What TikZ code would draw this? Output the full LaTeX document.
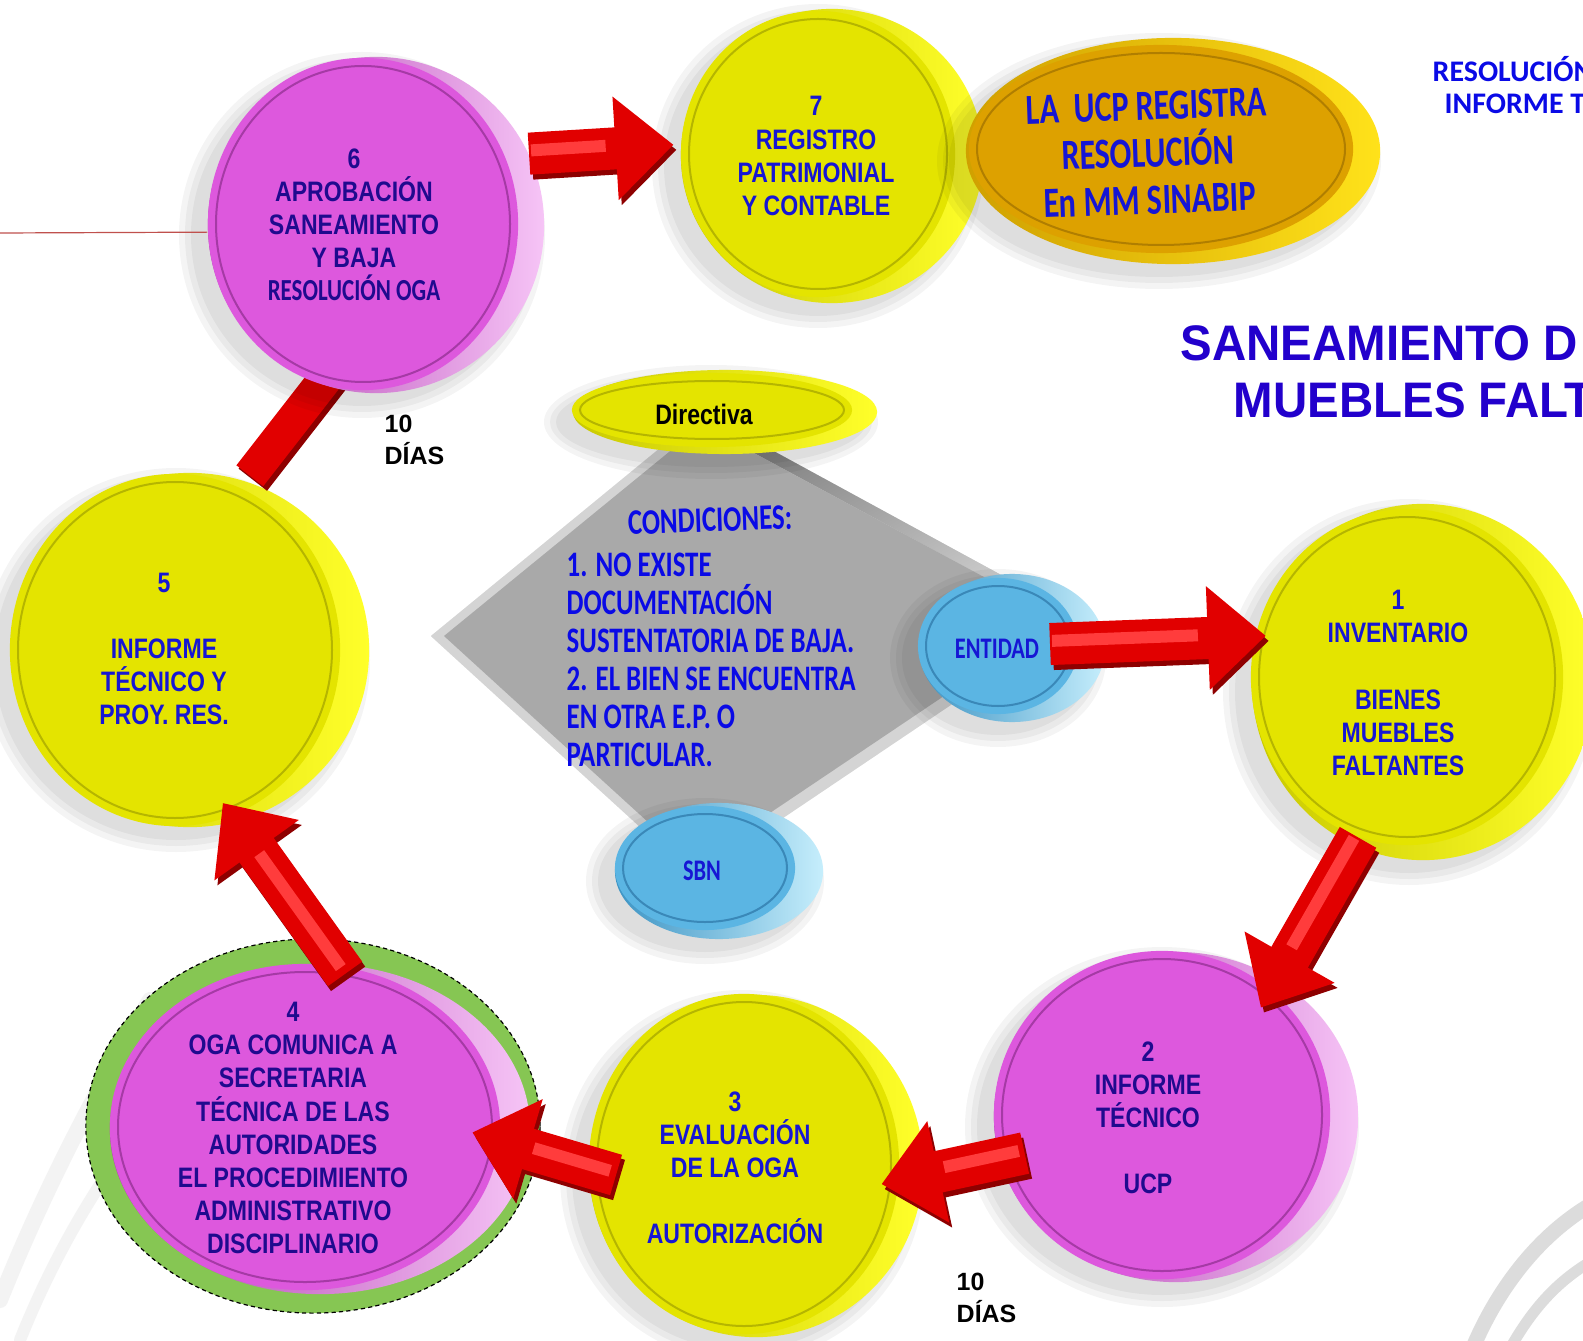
\documentclass[tikz,border=0pt]{standalone}
\usepackage{fontspec}
\setmainfont{Liberation Sans}
\newfontfamily\narr{Liberation Sans}[FakeStretch=0.82]
\newfontfamily\calnarr{Carlito}[FakeStretch=0.75]
\newfontfamily\calfont{Carlito}
\newfontfamily\ttlfont{Liberation Sans}[FakeStretch=0.95]
\usetikzlibrary{arrows.meta,shapes.geometric}

\definecolor{yface}{HTML}{E4E400}
\definecolor{yrimL}{HTML}{C9C900}
\definecolor{yrimR}{HTML}{FFFF2A}
\definecolor{yring}{HTML}{B5B500}
\definecolor{mface}{HTML}{DD58DD}
\definecolor{mrimL}{HTML}{B03CB0}
\definecolor{mrimR}{HTML}{F6C4F6}
\definecolor{mring}{HTML}{A53AA5}
\definecolor{oface}{HTML}{DDA100}
\definecolor{orimL}{HTML}{D0A000}
\definecolor{orimR}{HTML}{FFE21A}
\definecolor{oring}{HTML}{B07E00}
\definecolor{bface}{HTML}{5BB5E3}
\definecolor{brimL}{HTML}{3D94C4}
\definecolor{brimR}{HTML}{C6EEFC}
\definecolor{bring}{HTML}{3A88B8}
\definecolor{txtblue}{HTML}{1616D4}
\definecolor{txtnavy}{HTML}{1F0A8E}
\definecolor{ttlblue}{HTML}{2200CC}
\definecolor{resblue}{HTML}{0A0AE6}
\definecolor{arrred}{HTML}{E10000}
\definecolor{arrdark}{HTML}{8E0000}
\definecolor{arrlight}{HTML}{FF3C3C}
\definecolor{ringgreen}{HTML}{86C653}
\definecolor{dface}{HTML}{A9A9A9}
\definecolor{dedge}{HTML}{D4D4D4}
\definecolor{ddark}{HTML}{7C7C7C}
\definecolor{thinred}{HTML}{C0504D}
\definecolor{wmark}{HTML}{DCDCDC}
\definecolor{wmarkl}{HTML}{F3F3F3}

\tikzset{
  rimY/.style={ellipse, inner sep=0, draw=none, left color=yrimL, right color=yrimR},
  faceY/.style={ellipse, inner sep=0, draw=none, fill=yface},
  ringY/.style={draw=yring, line width=0.02cm},
  rimM/.style={ellipse, inner sep=0, draw=none, left color=mrimL, right color=mrimR},
  faceM/.style={ellipse, inner sep=0, draw=none, fill=mface},
  ringM/.style={draw=mring, line width=0.02cm},
  rimO/.style={ellipse, inner sep=0, draw=none, left color=orimL, right color=orimR},
  faceO/.style={ellipse, inner sep=0, draw=none, fill=oface},
  ringO/.style={draw=oring, line width=0.02cm},
  rimB/.style={ellipse, inner sep=0, draw=none, left color=brimL, right color=brimR},
  faceB/.style={ellipse, inner sep=0, draw=none, fill=bface},
  ringB/.style={draw=bring, line width=0.02cm},
  cshadow/.style={fill=black, opacity=0.045},
  greenring/.style={ellipse, inner sep=0, fill=ringgreen, draw=black, line width=0.012cm,
    dash pattern=on 1.2pt off 0.9pt},
  ytext/.style={font=\narr\bfseries\fontsize{8}{9.4}\selectfont, text=txtblue, align=center, inner sep=0},
  mtext/.style={font=\narr\bfseries\fontsize{8}{9.4}\selectfont, text=txtnavy, align=center, inner sep=0},
  otext/.style={font=\calnarr\bfseries\fontsize{12.2}{13.4}\selectfont, text=txtblue, align=center, inner sep=0},
  condtext/.style={font=\calnarr\bfseries\fontsize{10.2}{10.8}\selectfont, text=resblue, inner sep=0},
  smalltext/.style={font=\calnarr\bfseries\fontsize{8.5}{9.4}\selectfont, text=txtblue, inner sep=0},
  dirtext/.style={font=\narr\bfseries\fontsize{8}{9.4}\selectfont, text=black, inner sep=0},
  diastext/.style={font=\bfseries\fontsize{7.1}{9.1}\selectfont, text=black, align=left, inner sep=0, anchor=west},
  restext/.style={font=\calfont\bfseries\fontsize{8.5}{10}\selectfont, text=resblue, inner sep=0, anchor=west},
  ttltext/.style={font=\ttlfont\bfseries\fontsize{14.2}{16}\selectfont, text=ttlblue, inner sep=0, anchor=west},
  arrtip/.style={-{Triangle[width=1.0cm,length=0.58cm]}},
  arrshade/.style={draw=arrdark, line width=0.42cm, arrtip, transform canvas={shift={(0.03cm,-0.05cm)}}},
  arrbody/.style={draw=arrred, line width=0.42cm, arrtip},
  arrhl/.style={draw=arrlight, line width=0.12cm},
  stickshade/.style={draw=arrdark, line width=0.36cm, transform canvas={shift={(0.03cm,-0.04cm)}}},
  stickbody/.style={draw=arrred, line width=0.34cm},
  wm/.style={draw=wmark, line cap=round},
  wml/.style={draw=wmarkl, line cap=round},
}

\newcommand\coinshadow[3]{%
  \foreach \s in {3,9,15}{\fill[cshadow, shift={(-14,10)}] (#1) ellipse [x radius=#2+\s, y radius=#3+\s];}%
}
% #1 name, #2 face centre, #3 face rx, #4 face ry, #5 rim centre, #6 rim rx, #7 rim ry, #8 kind
\newcommand\drawcoin[8]{%
  \node[rim#8, minimum width=#6*0.02cm, minimum height=#7*0.02cm] (#1r) at (#5) {};
  \node[face#8, minimum width=#3*0.02cm, minimum height=#4*0.02cm] (#1) at (#2) {};
  \draw[ring#8] (#2) ellipse [x radius=#3-8, y radius=#4-8];
}
% #1 start, #2 end, #3 shorten start, #4 shorten end
\newcommand\redarrow[4]{%
  \draw[arrshade, shorten <=#3, shorten >=#4] #1 -- #2;
  \draw[arrbody, shorten <=#3, shorten >=#4] #1 -- #2;
  \draw[arrhl, shorten <=#3+0.04cm, shorten >=#4+0.66cm, transform canvas={shift={(-0.02cm,0.03cm)}}] #1 -- #2;
}

\begin{document}
\begin{tikzpicture}[x=0.01cm,y=-0.01cm]
\useasboundingbox (0,0) rectangle (1583,1340);
\clip (0,0) rectangle (1583,1340);
\fill[white] (0,0) rectangle (1583,1340);

% faint watermarks
\draw[wm, line width=0.15cm] (1474,1345) .. controls (1500,1285) and (1540,1235) .. (1590,1205);
\draw[wm, line width=0.11cm] (1512,1345) .. controls (1535,1305) and (1560,1280) .. (1590,1262);
\draw[wml, line width=0.16cm] (0,1300) .. controls (40,1200) and (90,1100) .. (150,1000);
\draw[wml, line width=0.12cm] (20,1340) .. controls (60,1240) and (120,1140) .. (200,1060);

% diamond
\coordinate (dL) at (429,636);
\coordinate (dT) at (702,412);
\coordinate (dR) at (1080,618);
\coordinate (dB) at (694,878);
\coordinate (iL) at (444,636);
\coordinate (iT) at (702,425);
\coordinate (iR) at (1060,618);
\coordinate (iB) at (694,864);
\fill[black, opacity=0.06, shift={(-8,10)}] (dL) -- (dT) -- (dR) -- (dB) -- cycle;
\fill[dedge] (dL) -- (dT) -- (dR) -- (dB) -- cycle;
\shade[left color=ddark, right color=dedge, shading angle=30] (dT) -- (dR) -- (iR) -- (iT) -- cycle;
\fill[dface] (iL) -- (iT) -- (iR) -- (iB) -- cycle;
\draw[white, line width=0.02cm] (dL) -- (dT);
\draw[white, line width=0.02cm] (dL) -- (dB);

% circle 5
\coinshadow{190,650}{179}{177}
\drawcoin{c5}{175,650}{165}{176}{190,650}{179}{177}{Y}

% stick 5 -> 6 (its head lies under circle 6)
\coordinate (s56) at (350,347);
\draw[stickshade, shorten <=0.15cm] (c5.68) -- (s56);
\draw[stickbody, shorten <=0.15cm] (c5.68) -- (s56);

% circle 6
\coinshadow{376,225}{168}{168}
\drawcoin{c6}{363,224}{155}{166}{376,225}{168}{168}{M}
\coordinate (redl) at (0,233);
\draw[thinred, line width=0.012cm] (redl) -- (c6.183);

% circle 7 and orange ellipse
\coinshadow{832,156}{151}{147}
\drawcoin{c7}{818,154}{137}{143}{832,156}{151}{147}{Y}
\redarrow{(c6r.25)}{(c7.176)}{0cm}{0.07cm}
\coinshadow{1173,151}{207}{113}
\drawcoin{org}{1161,149}{192}{104}{1173,151}{207}{113}{O}

% directiva, entidad, sbn
\coinshadow{725,412}{152}{42}
\drawcoin{dir}{712,410}{140}{37}{725,412}{152}{42}{Y}
\coinshadow{1012,648}{93}{74}
\drawcoin{ent}{998,646}{80}{68}{1012,648}{93}{74}{B}
\coinshadow{719,871}{104}{68}
\drawcoin{sbn}{705,868}{90}{62}{719,871}{104}{68}{B}

% circles 1, 2, 3
\coinshadow{1423,682}{171}{178}
\drawcoin{c1}{1407,677}{156}{168}{1423,682}{171}{178}{Y}
\coinshadow{1176,1117}{182}{165}
\drawcoin{c2}{1162,1115}{168}{164}{1176,1117}{182}{165}{M}
\coinshadow{756,1166}{167}{171}
\drawcoin{c3}{744,1164}{155}{170}{756,1166}{167}{171}{Y}

% circle 4 with dashed green ring
\node[greenring, minimum width=4.54cm, minimum height=3.74cm] (c4g) at (313,1126) {};
\drawcoin{c4}{305,1127}{195}{163}{320,1129}{210}{165}{M}

% arrows
\redarrow{(ent.center)}{(c1.165)}{0.52cm}{-0.11cm}
\redarrow{(c1.253)}{(c2.49)}{0cm}{-0.21cm}
\redarrow{(c2.195)}{(c3.354)}{-0.26cm}{-0.18cm}
\redarrow{(c3.181)}{(c4.356)}{-0.29cm}{-0.29cm}
\redarrow{(c4.78)}{(c5.289)}{-0.1cm}{-0.16cm}

% texts
\node[mtext] (t6) at (354,225) {6\\APROBACIÓN\\SANEAMIENTO\\Y BAJA\\{\calnarr\fontsize{8.7}{9.4}\selectfont RESOLUCIÓN OGA}};
\node[ytext] (t7) at (816,156) {7\\REGISTRO\\PATRIMONIAL\\Y CONTABLE};
\node[otext, rotate=2] (torg) at (1148,153) {LA\ \ UCP REGISTRA\\RESOLUCIÓN\\En MM SINABIP};
\node[ytext] (t1) at (1398,683) {1\\INVENTARIO\\[9.4pt]BIENES\\MUEBLES\\FALTANTES};
\node[mtext] (t2) at (1148,1118) {2\\INFORME\\TÉCNICO\\[9.4pt]UCP};
\node[ytext] (t3) at (735,1168) {3\\EVALUACIÓN\\DE LA OGA\\[9.4pt]AUTORIZACIÓN};
\node[mtext] (t4) at (293,1128) {4\\OGA COMUNICA A\\SECRETARIA\\TÉCNICA DE LAS\\AUTORIDADES\\EL PROCEDIMIENTO\\ADMINISTRATIVO\\DISCIPLINARIO};
\node[ytext] (t5) at (164,649) {5\\[9.4pt]INFORME\\TÉCNICO Y\\PROY. RES.};
\node[dirtext] (tdir) at (704,414) {Directiva};
\node[smalltext] (tent) at (997,649) {ENTIDAD};
\node[smalltext] (tsbn) at (702,871) {SBN};
\node[condtext, rotate=2] (tcond) at (710,520) {CONDICIONES:};
\node[condtext, align=left, anchor=west] (tcondb) at (566,660) {1. NO EXISTE\\DOCUMENTACIÓN\\SUSTENTATORIA DE BAJA.\\2. EL BIEN SE ENCUENTRA\\EN OTRA E.P. O\\PARTICULAR.};
\node[diastext] (td1) at (384,440) {10\\DÍAS};
\node[diastext] (td2) at (956,1298) {10\\DÍAS};
\node[restext] (tres) at (1432,69) {RESOLUCIÓN};
\node[restext] (tinf) at (1444,104) {INFORME T};
\node[ttltext] (ttl1) at (1180,343) {SANEAMIENTO D};
\node[ttltext] (ttl2) at (1233,400) {MUEBLES FALT};
\end{tikzpicture}
\end{document}
